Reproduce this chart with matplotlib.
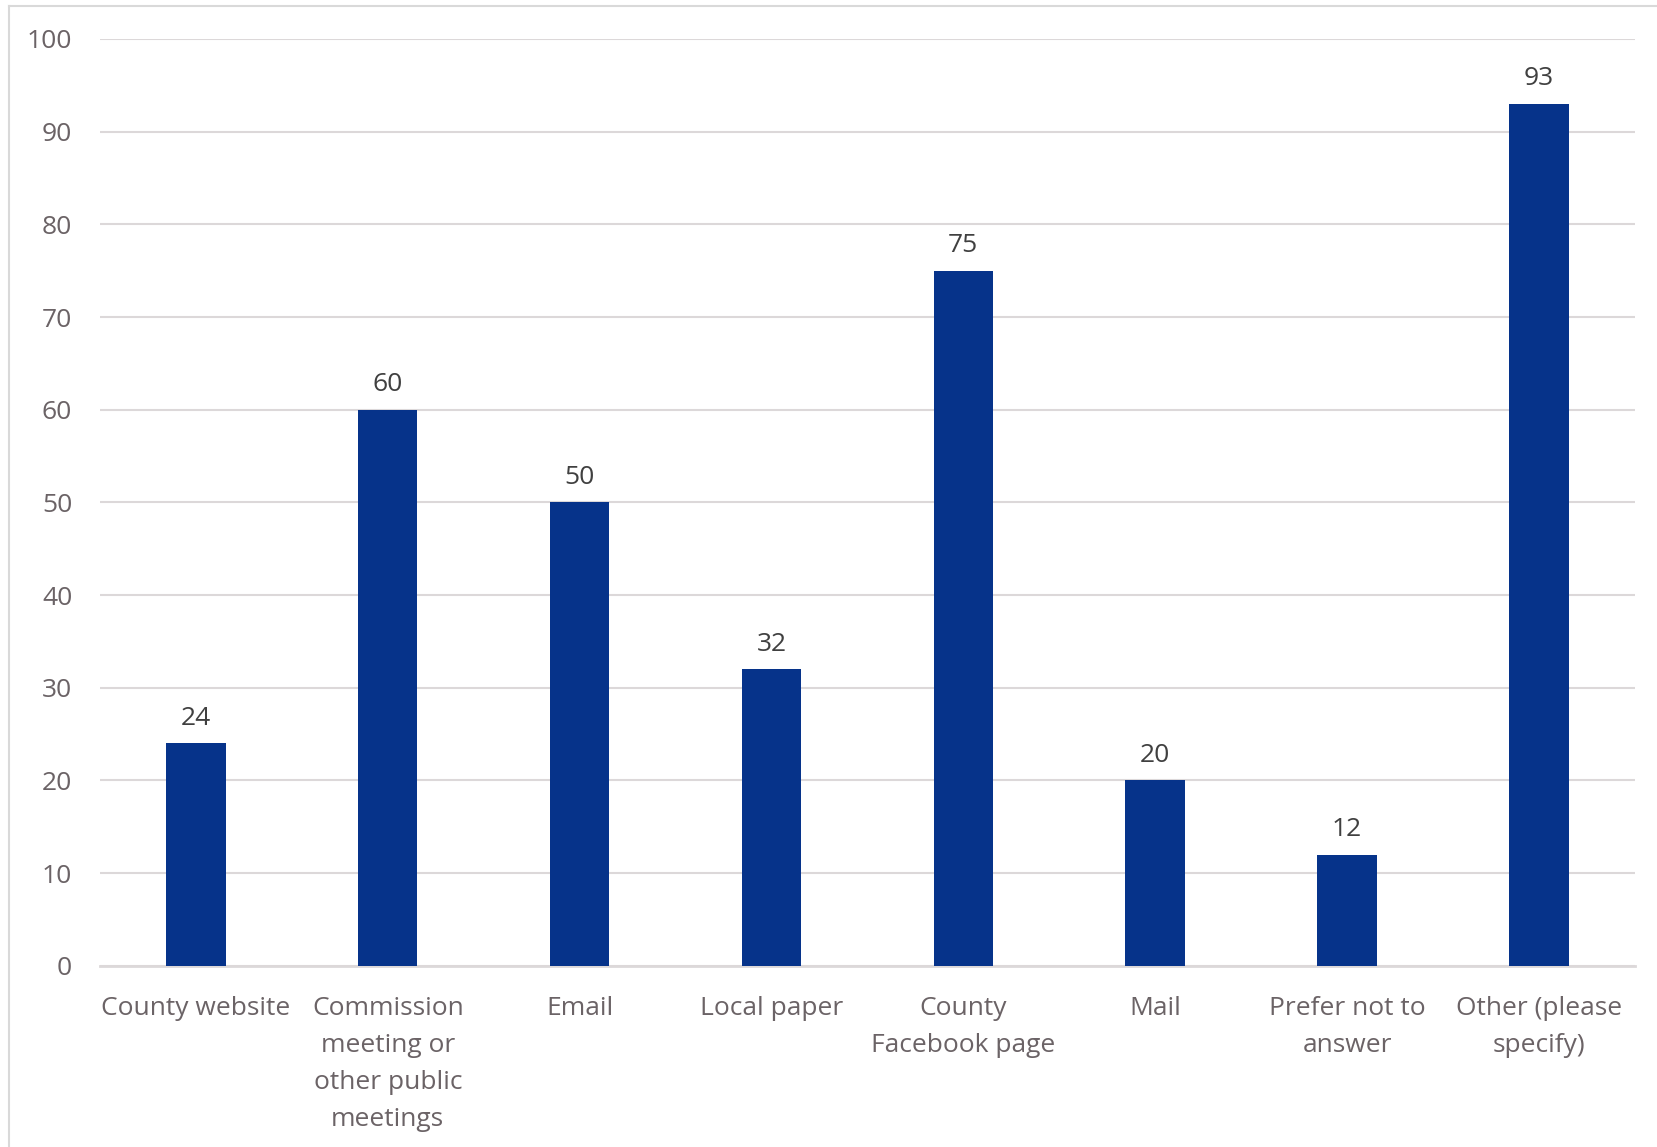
import matplotlib.pyplot as plt
from matplotlib.lines import Line2D

categories = ["County website", "Commission\nmeeting or\nother public\nmeetings", "Email",
              "Local paper", "County\nFacebook page", "Mail", "Prefer not to\nanswer",
              "Other (please\nspecify)"]
values = [24, 60, 50, 32, 75, 20, 12, 93]
yticks = [0, 10, 20, 30, 40, 50, 60, 70, 80, 90, 100]

plt.rcParams['font.family'] = ['Open Sans', 'DejaVu Sans']
text_color = '#6b6366'
grid_color = '#dcd8d9'

fig = plt.figure(figsize=(16.58, 11.47), dpi=100)
ax = fig.add_axes([0.0603, 0.158, 0.9257, 0.808])

x = range(len(categories))
bars = ax.bar(x, values, width=0.31, color='#06338a', zorder=3)
for b, v in zip(bars, values):
    ax.annotate(str(v), (b.get_x() + b.get_width() / 2, v), xytext=(0, 9),
                textcoords='offset points', ha='center', va='bottom',
                fontsize=19, color='#404040')

ax.set_xlim(-0.5, len(categories) - 0.5)
ax.set_ylim(0, 100)
ax.set_yticks(yticks)
ax.set_xticks(list(x))
ax.set_xticklabels(categories, linespacing=1.63)
ax.yaxis.grid(True, color=grid_color, linewidth=1.5, zorder=0)
ax.tick_params(axis='both', length=0, labelsize=19, labelcolor=text_color)
ax.tick_params(axis='y', pad=20)
ax.tick_params(axis='x', pad=22)
for s in ['top', 'right', 'left']:
    ax.spines[s].set_visible(False)
ax.spines['bottom'].set_color(grid_color)
ax.spines['bottom'].set_linewidth(2)

# outer chart border (partially visible)
fig.add_artist(Line2D([9 / 1658, 9 / 1658], [0, 1 - 6 / 1147], transform=fig.transFigure,
                      color='#d9d9d9', linewidth=1.5))
fig.add_artist(Line2D([9 / 1658, 1], [1 - 6 / 1147, 1 - 6 / 1147], transform=fig.transFigure,
                      color='#d9d9d9', linewidth=1.5))

fig.savefig('out.png', dpi=100, facecolor='white')
